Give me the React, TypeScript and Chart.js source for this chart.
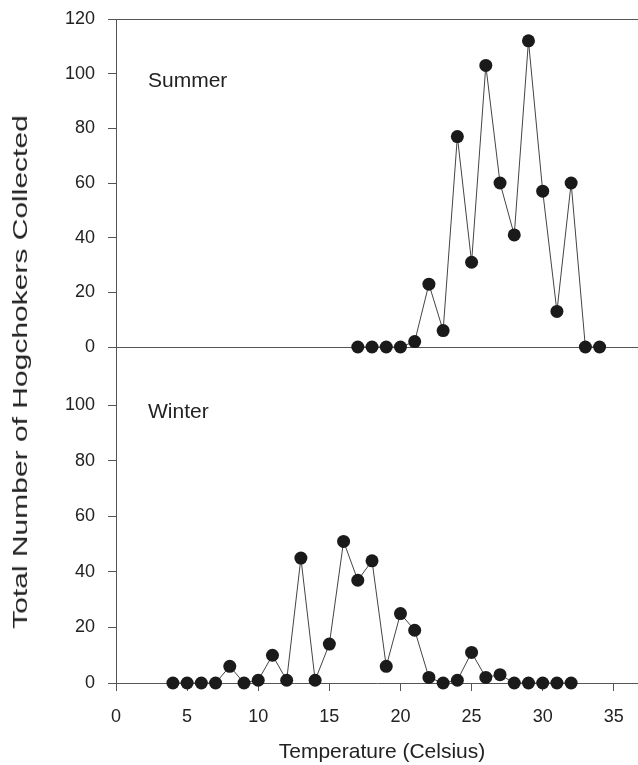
import React, { useEffect, useRef } from "react";
import { Chart, registerables } from "chart.js";

Chart.register(...registerables);

// ---- data ----
const summerTemps = [17, 18, 19, 20, 21, 22, 23, 24, 25, 26, 27, 28, 29, 30, 31, 32, 33, 34];
const summerCounts = [0, 0, 0, 0, 2, 23, 6, 77, 31, 103, 60, 41, 112, 57, 13, 60, 0, 0];
const winterTemps = [4, 5, 6, 7, 8, 9, 10, 11, 12, 13, 14, 15, 16, 17, 18, 19, 20, 21, 22, 23, 24, 25, 26, 27, 28, 29, 30, 31, 32];
const winterCounts = [0, 0, 0, 0, 6, 0, 1, 10, 1, 45, 1, 14, 51, 37, 44, 6, 25, 19, 2, 0, 1, 11, 2, 3, 0, 0, 0, 0, 0];
const yTickValues = [0, 20, 40, 60, 80, 100, 120];
const xTickValues = [0, 5, 10, 15, 20, 25, 30, 35];
const panelLabels = ["Summer", "Winter"];
const xTitle = "Temperature (Celsius)";
const yTitle = "Total Number of Hogchokers Collected";

const FONT = "'Liberation Sans', Arial, Helvetica, sans-serif";
const TEXT = "#222";
const AXIS = "#555";
const X_MAX = 36.7;

const pts = (xs: number[], ys: number[]) => xs.map((x, i) => ({ x, y: ys[i] }));

const topBorder = {
  id: "topBorder",
  afterDraw(chart: any) {
    const { ctx, chartArea } = chart;
    ctx.save();
    ctx.strokeStyle = AXIS;
    ctx.lineWidth = 1;
    ctx.beginPath();
    ctx.moveTo(chartArea.left, Math.round(chartArea.top) + 0.5);
    ctx.lineTo(chartArea.right, Math.round(chartArea.top) + 0.5);
    ctx.stroke();
    ctx.restore();
  },
};

function datasetOf(xs: number[], ys: number[]) {
  return {
    data: pts(xs, ys),
    borderColor: "#444",
    borderWidth: 1,
    pointRadius: 6.5,
    pointHoverRadius: 6.5,
    pointBackgroundColor: "#1a1a1a",
    pointBorderWidth: 0,
    clip: false as any,
    tension: 0,
  };
}

function yScale(max: number, maxLabel: number) {
  return {
    type: "linear" as const,
    min: 0,
    max,
    afterBuildTicks: (s: any) => {
      s.ticks = yTickValues.filter((v) => v <= maxLabel).map((v) => ({ value: v }));
    },
    ticks: { font: { family: FONT, size: 18 }, color: TEXT, padding: 13 },
    grid: { drawOnChartArea: false, tickLength: 8, color: AXIS },
    border: { display: true, color: AXIS, width: 1 },
    afterFit: (s: any) => {
      s.width = 116;
      s.paddingTop = 0;
      s.paddingBottom = 0;
    },
  };
}

export default function App() {
  const topRef = useRef<HTMLCanvasElement>(null);
  const botRef = useRef<HTMLCanvasElement>(null);

  useEffect(() => {
    const top = new Chart(topRef.current!, {
      type: "line",
      data: { datasets: [datasetOf(summerTemps, summerCounts)] },
      options: {
        animation: false,
        responsive: false,
        events: [],
        layout: { autoPadding: false, padding: { top: 19, bottom: 13, left: 0, right: 0 } },
        plugins: { legend: { display: false }, tooltip: { enabled: false } },
        scales: {
          x: {
            type: "linear",
            min: 0,
            max: X_MAX,
            ticks: { display: false },
            grid: { display: false, drawTicks: false },
            border: { display: true, color: AXIS, width: 1 },
            afterFit: (s: any) => {
              s.height = 0;
              s.paddingLeft = 0;
              s.paddingRight = 0;
            },
          },
          y: yScale(120, 120),
        },
      },
      plugins: [topBorder],
    });

    const bot = new Chart(botRef.current!, {
      type: "line",
      data: { datasets: [datasetOf(winterTemps, winterCounts)] },
      options: {
        animation: false,
        responsive: false,
        events: [],
        layout: { autoPadding: false, padding: { top: 347, bottom: 0, left: 0, right: 0 } },
        plugins: { legend: { display: false }, tooltip: { enabled: false } },
        scales: {
          x: {
            type: "linear",
            min: 0,
            max: X_MAX,
            afterBuildTicks: (s: any) => {
              s.ticks = xTickValues.map((v) => ({ value: v }));
            },
            ticks: { font: { family: FONT, size: 18 }, color: TEXT, padding: 15, maxRotation: 0 },
            grid: { drawOnChartArea: false, tickLength: 8, color: AXIS },
            border: { display: true, color: AXIS, width: 1 },
            afterFit: (s: any) => {
              s.height = 82;
              s.paddingLeft = 0;
              s.paddingRight = 0;
            },
          },
          y: yScale(121, 100),
        },
      },
    });

    return () => {
      top.destroy();
      bot.destroy();
    };
  }, []);

  const label = (text: string, left: number, top: number, size: number) => (
    <div
      style={{
        position: "absolute",
        left,
        top,
        fontFamily: FONT,
        fontSize: size,
        color: TEXT,
        lineHeight: 1,
        whiteSpace: "nowrap",
        zIndex: 3,
      }}
    >
      {text}
    </div>
  );

  return (
    <div
      style={{
        position: "absolute",
        left: 0,
        top: 0,
        width: 638,
        height: 765,
        background: "#fff",
        overflow: "hidden",
      }}
    >
      <canvas
        ref={botRef}
        width={638}
        height={765}
        style={{ position: "absolute", left: 0, top: 0, width: 638, height: 765, zIndex: 1 }}
      />
      <canvas
        ref={topRef}
        width={638}
        height={360}
        style={{ position: "absolute", left: 0, top: 0, width: 638, height: 360, zIndex: 2 }}
      />
      {label(panelLabels[0], 148, 69, 21)}
      {label(panelLabels[1], 148, 400, 21)}
      <div
        style={{
          position: "absolute",
          left: 382,
          top: 750,
          transform: "translate(-50%, -50%)",
          fontFamily: FONT,
          fontSize: 21,
          color: TEXT,
          lineHeight: 1,
          whiteSpace: "nowrap",
          zIndex: 3,
        }}
      >
        {xTitle}
      </div>
      <div
        style={{
          position: "absolute",
          left: 20,
          top: 372,
          transform: "translate(-50%, -50%) rotate(-90deg) scaleX(1.5)",
          fontFamily: FONT,
          fontSize: 20,
          color: TEXT,
          lineHeight: 1,
          whiteSpace: "nowrap",
          zIndex: 3,
        }}
      >
        {yTitle}
      </div>
    </div>
  );
}
